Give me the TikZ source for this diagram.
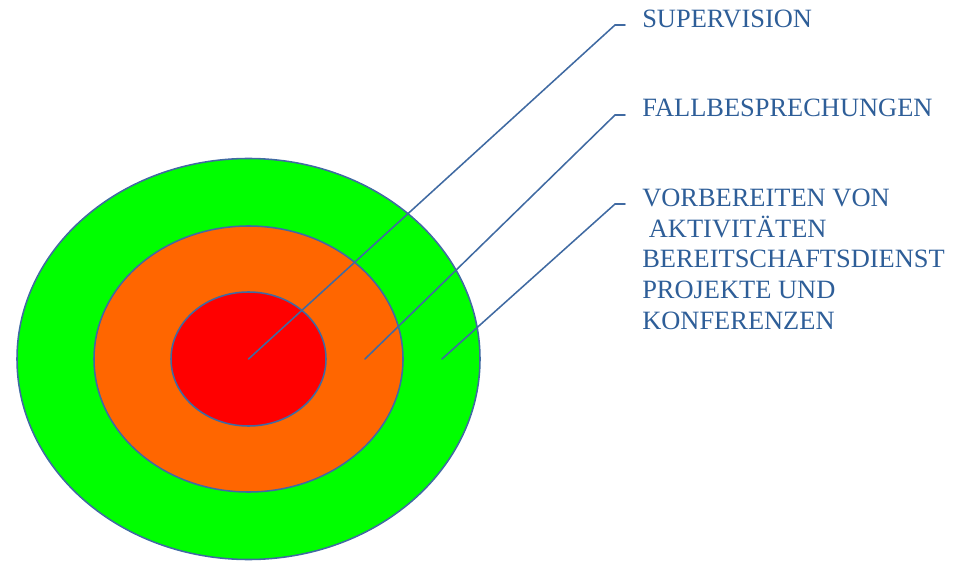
\documentclass[tikz,border=0pt]{standalone}
\usepackage{fontspec, tkz-euclide}
\setmainfont{Liberation Serif}
\definecolor{ringline}{RGB}{64,106,162}
\definecolor{labeltext}{RGB}{46,94,152}
\definecolor{ringgreen}{RGB}{0,255,0}
\definecolor{ringorange}{RGB}{255,102,0}
\definecolor{ringred}{RGB}{255,0,0}

\begin{document}
\begin{tikzpicture}[ring/.style={draw=ringline, line width=1.1pt},
    leader/.style={draw=ringline, line width=1.1pt},
    tag/.style={text=labeltext, anchor=base west, inner sep=0pt, align=left,
        font=\fontsize{18.8}{21.7}\selectfont}]
    \useasboundingbox (0,0) rectangle (24,14.025);
    \tkzDefPoints{6.2125/5.05/O, 9.125/5.05/M, 11.05/5.05/N}
    \tkzDefPoints{15.375/13.4/P1, 15.375/11.15/P2, 15.375/8.925/P3}
    \tkzDefPoints{15.625/13.4/Q1, 15.625/11.15/Q2, 15.625/8.925/Q3}
    \fill[ring, fill=ringgreen] (O) ellipse [x radius=5.7875, y radius=5.0125];
    \fill[ring, fill=ringorange] (O) ellipse [x radius=3.8625, y radius=3.325];
    \fill[ring, fill=ringred] (O) ellipse [x radius=1.9375, y radius=1.675];
    \tkzDrawPolySeg[leader](O,P1,Q1)
    \tkzDrawPolySeg[leader](M,P2,Q2)
    \tkzDrawPolySeg[leader](N,P3,Q3)
    \node[tag] (sup) at (16.05,13.325) {SUPERVISION};
    \node[tag] (fall) at (16.05,11.1) {FALLBESPRECHUNGEN};
    \node[tag] (vorb) at (16.05,5.8) {VORBEREITEN VON\\
        \hspace*{0.25em}AKTIVITÄTEN\\
        BEREITSCHAFTSDIENST\\
        PROJEKTE UND\\
        KONFERENZEN};
    \end{tikzpicture}
\end{document}
